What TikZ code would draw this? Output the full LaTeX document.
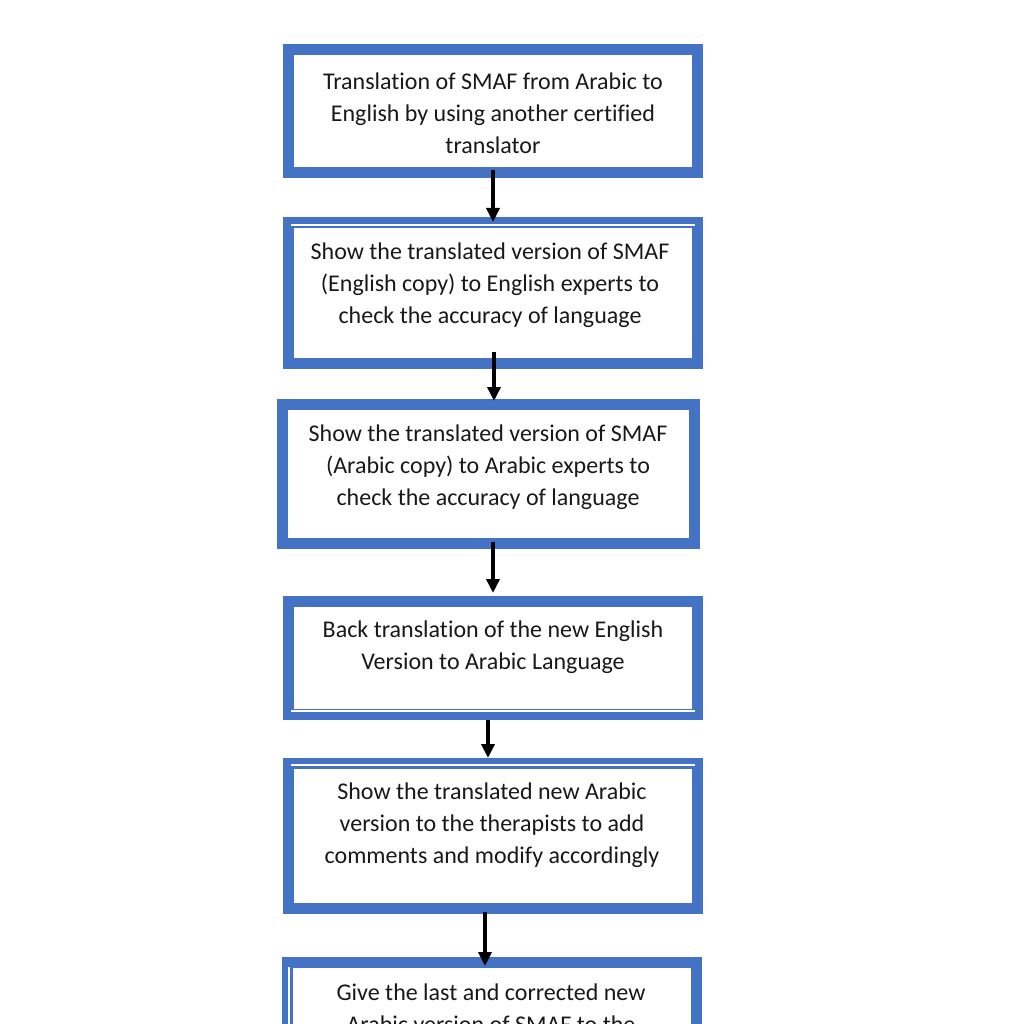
\documentclass[tikz,border=0pt]{standalone}
\usepackage{fontspec}
\setmainfont{Carlito}[Ligatures=NoCommon]
\usetikzlibrary{arrows.meta}
\definecolor{boxblue}{RGB}{68,114,196}
\tikzset{
  flowbox/.style={draw=boxblue, line width=11pt, fill=white, rectangle, inner sep=0pt, outer sep=0pt},
  flowtext/.style={align=center, inner sep=0pt, font=\fontsize{24}{32}\selectfont, text=black!90},
  arr/.style={line width=3.5pt, -{Triangle[length=14pt,width=13pt]}, black},
  glint/.style={draw=white, line width=1.5pt}
}
\begin{document}
\begin{tikzpicture}[x=1pt,y=-1pt]
\useasboundingbox (0,0) rectangle (1024,1024);
\clip (0,0) rectangle (1024,1024);
\fill[white] (0,0) rectangle (1024,1024);

% boxes
\node[flowbox, minimum width=409pt, minimum height=123pt] (b1) at (493,111) {};
\node[flowbox, minimum width=409pt, minimum height=141pt] (b2) at (493,293) {};
\node[flowbox, minimum width=412pt, minimum height=139pt] (b3) at (488.5,474) {};
\node[flowbox, minimum width=409pt, minimum height=113pt] (b4) at (493,658) {};
\node[flowbox, minimum width=409pt, minimum height=145pt] (b5) at (493,836) {};
\node[flowbox, minimum width=409pt, minimum height=137.5pt] (b6) at (492,1031.25) {};

% thin white glints inside borders
\draw[glint] (291,225) -- (695,225);
\draw[glint] (291,711) -- (695,711);
\draw[glint] (291,765) -- (695,765);
\draw[glint] (289,967) -- (289,1024);

% texts
\node[flowtext] (t1) at (493,113) {Translation of SMAF from Arabic to\\English by using another certified\\translator};
\node[flowtext] (t2) at (490,285) {Show the translated version of SMAF\\(English copy) to English experts to\\check the accuracy of language};
\node[flowtext] (t3) at (488,467) {Show the translated version of SMAF\\(Arabic copy) to Arabic experts to\\check the accuracy of language};
\node[flowtext] (t4) at (493,647) {Back translation of the new English\\Version to Arabic Language};
\node[flowtext] (t5) at (492,825) {Show the translated new Arabic\\version to the therapists to add\\comments and modify accordingly};
\node[flowtext] (t6) at (491,1008) {Give the last and corrected new\\Arabic version of SMAF to the};

% arrows
\coordinate (a1s) at (493,170); \coordinate (a1e) at (493,222);
\coordinate (a2s) at (494,352); \coordinate (a2e) at (494,401);
\coordinate (a3s) at (493,542); \coordinate (a3e) at (493,593);
\coordinate (a4s) at (488,720); \coordinate (a4e) at (488,758);
\coordinate (a5s) at (485,912); \coordinate (a5e) at (485,966);
\draw[arr] (a1s) -- (a1e);
\draw[arr] (a2s) -- (a2e);
\draw[arr] (a3s) -- (a3e);
\draw[arr] (a4s) -- (a4e);
\draw[arr] (a5s) -- (a5e);
\end{tikzpicture}
\end{document}
